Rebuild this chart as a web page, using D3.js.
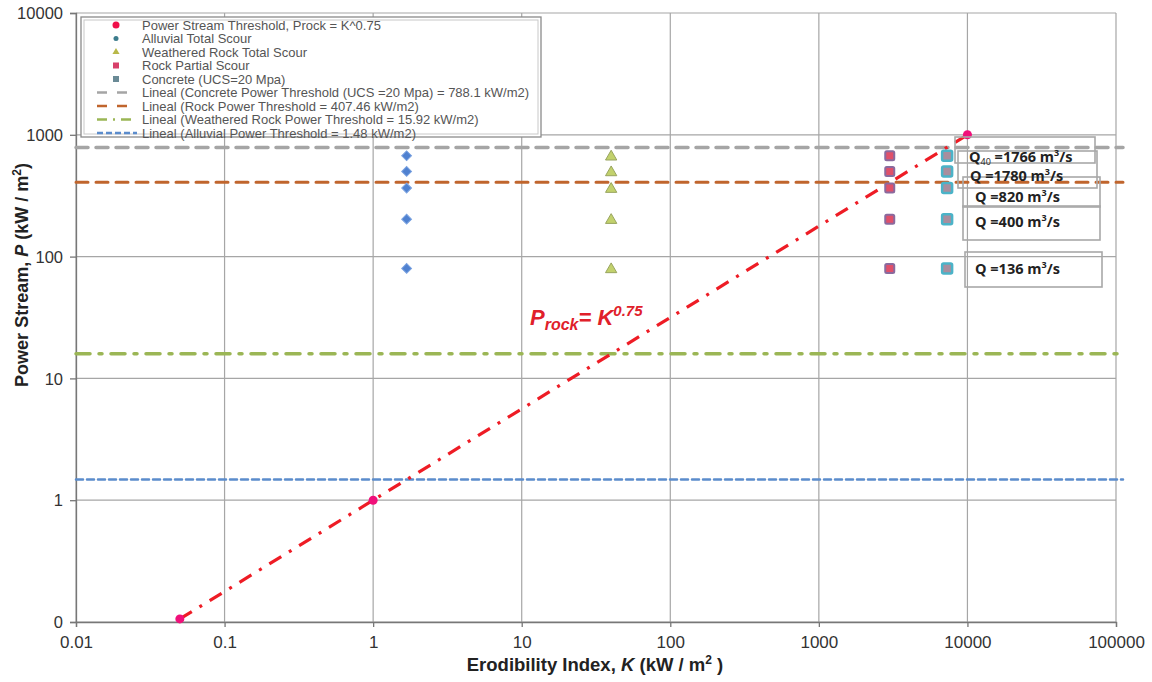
<!DOCTYPE html>
<html>
<head>
<meta charset="utf-8">
<script src="https://cdn.jsdelivr.net/npm/d3@7"></script>
<style>
  body { margin: 0; background: #fff; }
  svg { font-family: "Liberation Sans", Arial, sans-serif; }
  .xaxis .tick text { font-size: 17px; fill: #333; }
  .yaxis .tick text { font-size: 16.5px; fill: #333; }
  .axis-title { font-size: 18.5px; font-weight: bold; fill: #222; }
  .legend text { font-size: 13px; fill: #555; }
  .qbox text { font-family: "Open Sans", "Liberation Sans", sans-serif; font-size: 14.5px; font-weight: bold; fill: #222; }
</style>
</head>
<body>
<svg id="chart" width="1152" height="682"></svg>
<script>
// Data
const xTicks = [0.01, 0.1, 1, 10, 100, 1000, 10000, 100000];
const xTickLabels = ["0.01", "0.1", "1", "10", "100", "1000", "10000", "100000"];
const yTicks = [0.1, 1, 10, 100, 1000, 10000];
const yTickLabels = ["0", "1", "10", "100", "1000", "10000"];

// Power stream threshold points, Prock = K^0.75
const powerK = [0.05, 1, 10000];
const powerP = [0.106, 1, 1000];

// stream power for each flow (same for all materials)
const flowP = [673, 500, 365, 203, 80];
const flowLabels = ["1766", "1780", "820", "400", "136"];

const alluvialK = [1.68, 1.68, 1.68, 1.68, 1.68];
const weatheredK = [40, 40, 40, 40, 40];
const rockK = [3000, 3000, 3000, 3000, 3000];
const concreteK = [7300, 7300, 7300, 7300, 7300];

// threshold lines
const thresholdNames = ["Concrete", "Rock", "Weathered", "Alluvial"];
const thresholdValues = [788.1, 407.46, 15.92, 1.48];

const legendLabels = [
  "Power Stream Threshold, Prock = K^0.75",
  "Alluvial Total Scour",
  "Weathered Rock Total Scour",
  "Rock Partial Scour",
  "Concrete (UCS=20 Mpa)",
  "Lineal (Concrete Power Threshold (UCS =20 Mpa) = 788.1 kW/m2)",
  "Lineal (Rock Power Threshold = 407.46 kW/m2)",
  "Lineal (Weathered Rock Power Threshold = 15.92 kW/m2)",
  "Lineal (Alluvial Power Threshold = 1.48 kW/m2)"
];

const margin = {top: 13, right: 36, bottom: 60, left: 76};
const width = 1152 - margin.left - margin.right,
      height = 682 - margin.top - margin.bottom;

const svg = d3.select("#chart");
const g = svg.append("g").attr("transform", "translate(" + margin.left + "," + margin.top + ")");

const x = d3.scaleLog().domain([0.01, 100000]).range([0, width]);
const y = d3.scaleLog().domain([0.1, 10000]).range([height, 0]);

// gridlines
g.append("g").selectAll("line").data(xTicks).enter().append("line")
  .attr("x1", d => x(d)).attr("x2", d => x(d))
  .attr("y1", 0).attr("y2", height)
  .attr("stroke", "#a6a6a6").attr("stroke-width", 1.2);
g.append("g").selectAll("line").data(yTicks).enter().append("line")
  .attr("x1", 0).attr("x2", width)
  .attr("y1", d => y(d)).attr("y2", d => y(d))
  .attr("stroke", "#a6a6a6").attr("stroke-width", 1.2);

// axes
const xAxis = g.append("g").attr("class", "xaxis")
  .attr("transform", "translate(0," + height + ")")
  .call(d3.axisBottom(x).tickValues(xTicks).tickFormat((d, i) => xTickLabels[i]).tickSize(5).tickPadding(9));
const yAxis = g.append("g").attr("class", "yaxis")
  .call(d3.axisLeft(y).tickValues(yTicks).tickFormat((d, i) => yTickLabels[i]).tickSize(6).tickPadding(7));
[xAxis, yAxis].forEach(a => {
  a.select(".domain").attr("stroke", "#777").attr("stroke-width", 1.3);
  a.selectAll(".tick line").attr("stroke", "#777").attr("stroke-width", 1.3);
});
yAxis.selectAll(".tick text").attr("dy", "0.35em");

// threshold lines
const thrColors = ["#a5a5a5", "#c0652d", "#9bb655", "#5b8ccc"];
const thrDash = ["12,8", "12,8", "14,9,3,9", "7,4"];
const thrWidth = [3.5, 3, 3.5, 2.5];
g.append("g").selectAll("line").data(thresholdValues).enter().append("line")
  .attr("x1", 0).attr("x2", width + 7)
  .attr("y1", d => y(d)).attr("y2", d => y(d))
  .attr("stroke", (d, i) => thrColors[i])
  .attr("stroke-width", (d, i) => thrWidth[i])
  .attr("stroke-dasharray", (d, i) => thrDash[i])
  .attr("stroke-linecap", "round");

// power stream trend line
const powerData = powerK.map((k, i) => ({k: k, p: powerP[i]}));
const line = d3.line().x(d => x(d.k)).y(d => y(d.p));
g.append("path")
  .datum(powerData)
  .attr("d", line)
  .attr("fill", "none")
  .attr("stroke", "#ee1c25")
  .attr("stroke-width", 3.2)
  .attr("stroke-dasharray", "14,9,3,9");

// markers
const diamond = d3.symbol().type(d3.symbolSquare).size(48);
const triangle = d3.symbol().type(d3.symbolTriangle).size(55);

g.append("g").selectAll("path").data(flowP).enter().append("path")
  .attr("d", diamond)
  .attr("transform", (d, i) => "translate(" + x(alluvialK[i]) + "," + y(d) + ") rotate(45)")
  .attr("fill", "#4f81d0").attr("stroke", "#7aa2e0").attr("stroke-width", 1);

g.append("g").selectAll("path").data(flowP).enter().append("path")
  .attr("d", triangle)
  .attr("transform", (d, i) => "translate(" + x(weatheredK[i]) + "," + (y(d) + 1) + ")")
  .attr("fill", "#c2d16c").attr("stroke", "#98a45e").attr("stroke-width", 1);

g.append("g").selectAll("rect").data(flowP).enter().append("rect")
  .attr("x", (d, i) => x(rockK[i]) - 4.5).attr("y", d => y(d) - 4.5)
  .attr("width", 9).attr("height", 9).attr("rx", 1.5)
  .attr("fill", "#e0506a").attr("stroke", "#8a6a9e").attr("stroke-width", 2);

g.append("g").selectAll("rect").data(flowP).enter().append("rect")
  .attr("x", (d, i) => x(concreteK[i]) - 5).attr("y", d => y(d) - 5)
  .attr("width", 10).attr("height", 10).attr("rx", 1.5)
  .attr("fill", "#a88e9e").attr("stroke", "#4bb3c8").attr("stroke-width", 2.5);

g.append("g").selectAll("circle").data(powerData).enter().append("circle")
  .attr("cx", d => x(d.k)).attr("cy", d => y(d.p))
  .attr("r", 4.5).attr("fill", "#f0107a");

// flow annotation boxes
const boxes = [
  {x: 879, y: 124, w: 140, h: 26, tx: 893, ty: 149},
  {x: 882, y: 138, w: 139, h: 37, tx: 894, ty: 168},
  {x: 887, y: 164, w: 137, h: 30, tx: 899, ty: 189},
  {x: 887, y: 193, w: 137, h: 34, tx: 899, ty: 214},
  {x: 889, y: 239, w: 137, h: 35, tx: 899, ty: 261}
];
const qb = g.append("g").attr("class", "qbox");
qb.selectAll("rect").data(boxes).enter().append("rect")
  .attr("x", d => d.x).attr("y", d => d.y).attr("width", d => d.w).attr("height", d => d.h)
  .attr("fill", "none").attr("stroke", "#a8a8a8").attr("stroke-width", 1.6);
qb.selectAll("text").data(boxes).enter().append("text")
  .attr("x", d => d.tx).attr("y", d => d.ty)
  .each(function(d, i) {
    const t = d3.select(this);
    t.append("tspan").text("Q");
    if (i === 0) t.append("tspan").attr("dy", 3).style("font-size", "9px").style("font-weight", "normal").text("40");
    t.append("tspan").attr("dy", i === 0 ? -3 : 0).text(" =" + flowLabels[i] + " m");
    t.append("tspan").attr("dy", -6).style("font-size", "9px").text("3");
    t.append("tspan").attr("dy", 6).text("/s");
  });

// equation label
const eq = g.append("text")
  .attr("x", 454).attr("y", 312)
  .attr("fill", "#e0202a").style("font-weight", "bold").style("font-style", "italic").style("font-size", "22px");
eq.append("tspan").text("P");
eq.append("tspan").attr("dy", 5).style("font-size", "16px").text("rock");
eq.append("tspan").attr("dy", -5).text("= K");
eq.append("tspan").attr("dy", -9).style("font-size", "15px").text("0.75");

// legend
const lg = svg.append("g").attr("class", "legend");
lg.append("rect").attr("x", 81).attr("y", 17).attr("width", 460).attr("height", 120)
  .attr("fill", "#fff").attr("stroke", "#8a8a8a").attr("stroke-width", 1.3);
lg.append("rect").attr("x", 84).attr("y", 20).attr("width", 454).attr("height", 114)
  .attr("fill", "none").attr("stroke", "#c8c8c8").attr("stroke-width", 1);
const rowY = i => 25 + i * 13.5;
lg.selectAll("text").data(legendLabels).enter().append("text")
  .attr("x", 142).attr("y", (d, i) => rowY(i)).attr("dy", "0.35em").text(d => d);
// legend marker samples
lg.append("circle").attr("cx", 116).attr("cy", rowY(0)).attr("r", 3.5).attr("fill", "#f0104a");
lg.append("circle").attr("cx", 116).attr("cy", rowY(1)).attr("r", 2.5).attr("fill", "#3c7c8c");
lg.append("path").attr("d", d3.symbol().type(d3.symbolTriangle).size(22))
  .attr("transform", "translate(116," + rowY(2) + ")").attr("fill", "#b8b848");
lg.append("rect").attr("x", 113).attr("y", rowY(3) - 3).attr("width", 6).attr("height", 6).attr("fill", "#d8406a");
lg.append("rect").attr("x", 113).attr("y", rowY(4) - 3).attr("width", 6).attr("height", 6).attr("fill", "#6a8a96");
// legend line samples
thresholdValues.forEach((v, i) => {
  lg.append("line").attr("x1", 97).attr("x2", 137)
    .attr("y1", rowY(5 + i)).attr("y2", rowY(5 + i))
    .attr("stroke", thrColors[i]).attr("stroke-width", 2.5)
    .attr("stroke-dasharray", i === 2 ? "10,6,2,6" : (i === 3 ? "6,3" : "10,10"));
});

// axis titles
const xt = svg.append("text").attr("class", "axis-title")
  .attr("x", 595).attr("y", 671).attr("text-anchor", "middle");
xt.append("tspan").text("Erodibility Index, ");
xt.append("tspan").style("font-style", "italic").text("K");
xt.append("tspan").text(" (kW / m");
xt.append("tspan").attr("dy", -7).style("font-size", "12px").text("2");
xt.append("tspan").attr("dy", 7).text(" )");

const yt = svg.append("text").attr("class", "axis-title")
  .attr("transform", "translate(28,275) rotate(-90)").attr("text-anchor", "middle")
  .style("font-size", "18px");
yt.append("tspan").text("Power Stream, ");
yt.append("tspan").style("font-style", "italic").text("P");
yt.append("tspan").text("  (kW / m");
yt.append("tspan").attr("dy", -7).style("font-size", "12px").text("2");
yt.append("tspan").attr("dy", 7).text(")");
</script>
</body>
</html>
